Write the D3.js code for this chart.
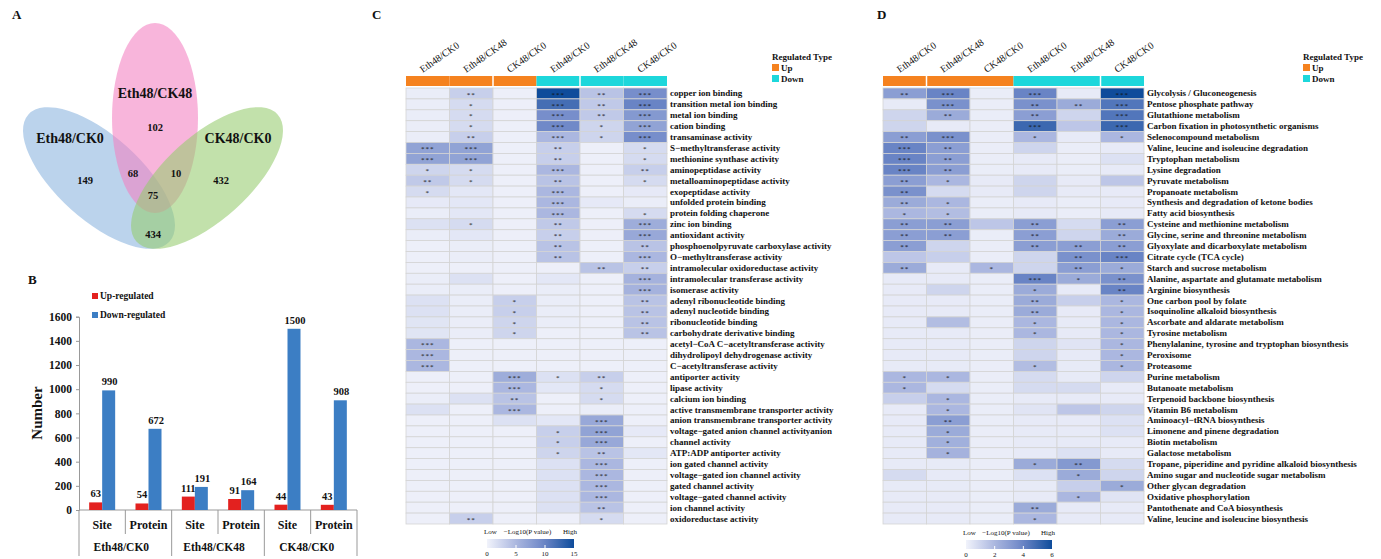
<!DOCTYPE html>
<html><head><meta charset="utf-8">
<script src="https://cdn.jsdelivr.net/npm/d3@7"></script>
<style>
body{margin:0;background:#fff}
svg{display:block}
text{font-family:"Liberation Serif","Times New Roman",serif;fill:#111}
</style>
</head><body>
<svg id="fig" width="1381" height="559"></svg>
<script>
// ---------------- DATA ----------------
// Panel A (Venn)
const vennSets = ["Eth48/CK0", "Eth48/CK48", "CK48/CK0"];
const vennRegions = ["A", "B", "C", "AB", "BC", "AC", "ABC"];
const vennCounts = [149, 102, 432, 68, 10, 434, 75];

// Panel B (bar chart)
const barGroups = ["Eth48/CK0", "Eth48/CK48", "CK48/CK0"];
const barCategories = ["Site", "Protein", "Site", "Protein", "Site", "Protein"];
const upValues = [63, 54, 111, 91, 44, 43];
const downValues = [990, 672, 191, 164, 1500, 908];
const yTicks = [0, 200, 400, 600, 800, 1000, 1200, 1400, 1600];
const seriesNames = ["Up-regulated", "Down-regulated"];

// Heatmap columns (shared by C and D)
const heatColumns = ["Eth48/CK0", "Eth48/CK48", "CK48/CK0", "Eth48/CK0", "Eth48/CK48", "CK48/CK0"];
const heatColumnType = ["Up", "Up", "Up", "Down", "Down", "Down"];

// Panel C (GO terms), -log10(P)
const cTerms = ["copper ion binding","transition metal ion binding","metal ion binding","cation binding","transaminase activity","S\u2212methyltransferase activity","methionine synthase activity","aminopeptidase activity","metalloaminopeptidase activity","exopeptidase activity","unfolded protein binding","protein folding chaperone","zinc ion binding","antioxidant activity","phosphoenolpyruvate carboxylase activity","O\u2212methyltransferase activity","intramolecular oxidoreductase activity","intramolecular transferase activity","isomerase activity","adenyl ribonucleotide binding","adenyl nucleotide binding","ribonucleotide binding","carbohydrate derivative binding","acetyl\u2212CoA C\u2212acetyltransferase activity","dihydrolipoyl dehydrogenase activity","C\u2212acetyltransferase activity","antiporter activity","lipase activity","calcium ion binding","active transmembrane transporter activity","anion transmembrane transporter activity","voltage\u2212gated anion channel activityanion","channel activity","ATP:ADP antiporter activity","ion gated channel activity","voltage\u2212gated ion channel activity","gated channel activity","voltage\u2212gated channel activity","ion channel activity","oxidoreductase activity"];
const cValues = [
[0.5,3,0.3,15,4,9],[0.5,2,0.3,12,3.5,10],[0.5,2,0.3,9,3.5,8],[0.5,2,0.3,9.5,2.5,7],[0.5,3,0.3,5,2.5,9],
[7,7,0.3,3,0.3,2],[7,7,0.3,3,0.3,2],[2.5,2,0.3,5,0.3,3],[3.5,2,0.3,4,0.3,2],[2,1,0.3,5,0.3,0.8],
[0.8,1,0.3,5,0.8,0.5],[0.5,1,0.3,5,0.3,2],[1.5,2,0.3,3.5,0.3,6],[0.5,1,0.3,3,0.3,6.5],[0.3,0.5,0.3,4,0.3,4],
[0.3,0.5,0.3,4,0.3,5],[0.3,0.3,0.3,0.3,4,3],[0.5,1.5,0.3,1,0.3,5.5],[0.5,0.5,0.3,0.5,0.3,5.5],[1.5,0.5,3,0.5,0.3,4],
[1.5,0.5,3,0.5,0.3,4],[1.2,0.5,2.5,0.5,0.3,4],[1.2,0.5,2.5,0.3,0.3,4],[5,0.3,0.3,0.3,0.3,0.3],[5,0.3,0.3,0.3,0.3,0.3],
[5,0.3,0.3,0.3,0.3,0.3],[0.3,0.3,6,1.5,3,0.3],[0.3,0.3,5,1,2,0.3],[0.5,1.5,4,0.3,2,0.3],[1.5,0.3,5,0.3,0.5,0.3],
[0.3,0.3,1.5,1,6.5,0.3],[0.3,0.3,0.3,3,7,0.8],[0.3,0.3,0.3,3,6.5,0.3],[0.3,0.3,0.3,2.5,4,1],[0.3,0.3,0.3,1.5,5,0.3],
[0.3,0.3,0.3,1.5,5,0.3],[0.3,0.3,0.3,1.5,5,0.3],[0.3,0.3,0.3,1.5,5,0.3],[0.3,0.3,0.3,1.5,4,0.3],[0.3,3,0.3,0.3,2,0.3]];
const cStars = [
[0,2,0,3,2,3],[0,1,0,3,2,3],[0,1,0,3,2,3],[0,1,0,3,1,3],[0,2,0,3,1,3],
[3,3,0,2,0,1],[3,3,0,2,0,1],[1,1,0,3,0,2],[2,1,0,2,0,1],[1,0,0,3,0,0],
[0,0,0,3,0,0],[0,0,0,3,0,1],[0,1,0,2,0,3],[0,0,0,2,0,3],[0,0,0,2,0,2],
[0,0,0,2,0,3],[0,0,0,0,2,2],[0,0,0,0,0,3],[0,0,0,0,0,3],[0,0,1,0,0,2],
[0,0,1,0,0,2],[0,0,1,0,0,2],[0,0,1,0,0,2],[3,0,0,0,0,0],[3,0,0,0,0,0],
[3,0,0,0,0,0],[0,0,3,1,2,0],[0,0,3,0,1,0],[0,0,2,0,1,0],[0,0,3,0,0,0],
[0,0,0,0,3,0],[0,0,0,1,3,0],[0,0,0,1,3,0],[0,0,0,1,2,0],[0,0,0,0,3,0],
[0,0,0,0,3,0],[0,0,0,0,3,0],[0,0,0,0,3,0],[0,0,0,0,2,0],[0,2,0,0,1,0]];
const cLegendTicks = [0, 5, 10, 15];

// Panel D (KEGG pathways), -log10(P)
const dTerms = ["Glycolysis / Gluconeogenesis","Pentose phosphate pathway","Glutathione metabolism","Carbon fixation in photosynthetic organisms","Selenocompound metabolism","Valine, leucine and isoleucine degradation","Tryptophan metabolism","Lysine degradation","Pyruvate metabolism","Propanoate metabolism","Synthesis and degradation of ketone bodies","Fatty acid biosynthesis","Cysteine and methionine metabolism","Glycine, serine and threonine metabolism","Glyoxylate and dicarboxylate metabolism","Citrate cycle (TCA cycle)","Starch and sucrose metabolism","Alanine, aspartate and glutamate metabolism","Arginine biosynthesis","One carbon pool by folate","Isoquinoline alkaloid biosynthesis","Ascorbate and aldarate metabolism","Tyrosine metabolism","Phenylalanine, tyrosine and tryptophan biosynthesis","Peroxisome","Proteasome","Purine metabolism","Butanoate metabolism","Terpenoid backbone biosynthesis","Vitamin B6 metabolism","Aminoacyl\u2212tRNA biosynthesis","Limonene and pinene degradation","Biotin metabolism","Galactose metabolism","Tropane, piperidine and pyridine alkaloid biosynthesis","Amino sugar and nucleotide sugar metabolism","Other glycan degradation","Oxidative phosphorylation","Pantothenate and CoA biosynthesis","Valine, leucine and isoleucine biosynthesis"];
const dValues = [
[3,4,0.2,4,0.3,6],[0.3,3.5,0.2,3.5,2.5,4.5],[1,2.5,0.2,3,1,4.5],[1,0.3,0.2,5,1.5,5],[3,3.5,0.2,2,0.3,2],
[4,3,0.2,1,0.2,0.3],[4,3,0.2,0.3,0.2,0.6],[4,3,0.2,0.3,0.2,0.3],[3,2,0.3,1,0.3,1.5],[3.5,0.8,0.3,1,0.3,0.3],
[2.5,2,0.2,0.3,0.2,0.3],[2,1.8,0.2,0.3,0.2,0.3],[3,3,1.5,3,0.8,3],[3,3,0.2,3,1,2.5],[3,1,0.2,3,3,3],
[1.5,1.2,0.2,1,3.5,4],[2.5,0.3,2,1,3,2.5],[0.3,0.3,0.2,4,2.5,3.5],[0.3,1,0.2,2.5,0.3,4],[0.3,0.3,0.2,2.5,1.2,2],
[0.3,0.3,0.2,2.5,0.3,2],[0.3,1.8,0.2,2,0.3,2],[0.3,0.3,0.2,2,0.3,2],[0.3,0.3,0.2,1,0.5,2],[0.3,0.3,0.2,1,0.3,2],
[0.3,0.3,0.2,1.8,0.3,2],[2,2,0.2,0.8,0.3,1],[2,0.8,0.2,0.8,0.8,0.3],[1.2,2,0.2,0.3,0.3,0.3],[0.3,2,0.2,0.5,1.5,1],
[0.3,3,0.2,0.3,0.3,0.6],[0.3,2.5,0.2,0.3,0.3,0.6],[0.3,2.3,0.2,0.3,0.3,0.3],[0.3,2.2,0.2,0.3,0.6,0.3],[0.3,0.3,0.2,2.5,3.2,0.8],
[0.8,0.3,0.2,0.6,2.5,1],[0.3,0.3,0.2,0.3,1.2,2.5],[0.3,0.3,0.2,0.3,2,0.5],[0.3,0.3,0.2,2.5,0.3,0.3],[0.3,0.3,0.2,2,0.3,0.3]];
const dStars = [
[2,3,0,3,0,3],[0,3,0,2,2,3],[0,2,0,2,0,3],[0,0,0,3,0,3],[2,3,0,1,0,1],
[3,2,0,0,0,0],[3,2,0,0,0,0],[3,2,0,0,0,0],[2,1,0,0,0,0],[2,0,0,0,0,0],
[2,1,0,0,0,0],[1,1,0,0,0,0],[2,2,0,2,0,2],[2,2,0,2,0,2],[2,0,0,2,2,2],
[0,0,0,0,2,3],[2,0,1,0,2,1],[0,0,0,3,1,2],[0,0,0,1,0,2],[0,0,0,2,0,1],
[0,0,0,2,0,1],[0,0,0,1,0,1],[0,0,0,1,0,1],[0,0,0,0,0,1],[0,0,0,0,0,1],
[0,0,0,1,0,1],[1,1,0,0,0,0],[1,0,0,0,0,0],[0,1,0,0,0,0],[0,1,0,0,0,0],
[0,2,0,0,0,0],[0,1,0,0,0,0],[0,1,0,0,0,0],[0,1,0,0,0,0],[0,0,0,1,2,0],
[0,0,0,0,1,0],[0,0,0,0,0,1],[0,0,0,0,1,0],[0,0,0,2,0,0],[0,0,0,1,0,0]];
const dLegendTicks = [0, 2, 4, 6];

// ---------------- DRAW ----------------
const svg = d3.select("#fig");
const BOLD = "bold";

// panel letters
[["A",12,19],["B",28,284],["C",372,19],["D",877,19]].forEach(([t,x,y]) =>
  svg.append("text").attr("x",x).attr("y",y).attr("font-size",13).attr("font-weight",BOLD).text(t));

// ---- Panel A: Venn ----
(function(){
  const g = svg.append("g");
  const ell = [
    {cx:99, cy:178, rx:95, ry:42, rot:42, fill:"rgb(138,180,222)"},
    {cx:155, cy:118, rx:43, ry:95, rot:0, fill:"rgb(243,128,193)"},
    {cx:207, cy:178, rx:95, ry:42, rot:-42, fill:"rgb(150,204,110)"}
  ];
  g.selectAll("ellipse").data(ell).join("ellipse")
    .attr("cx",d=>d.cx).attr("cy",d=>d.cy).attr("rx",d=>d.rx).attr("ry",d=>d.ry)
    .attr("transform",d=>`rotate(${d.rot},${d.cx},${d.cy})`)
    .attr("fill",d=>d.fill).attr("fill-opacity",0.58);
  const setPos = [[70,143],[155,98],[238,143]];
  g.selectAll("text.set").data(vennSets).join("text").attr("class","set")
    .attr("x",(d,i)=>setPos[i][0]).attr("y",(d,i)=>setPos[i][1])
    .attr("text-anchor","middle").attr("font-size",14).attr("font-weight",BOLD).text(d=>d);
  const regPos = {A:[85,184],B:[155,131],C:[221,184],AB:[133,177],BC:[176,177],AC:[153,238],ABC:[153,199]};
  g.selectAll("text.num").data(vennRegions).join("text").attr("class","num")
    .attr("x",d=>regPos[d][0]).attr("y",d=>regPos[d][1])
    .attr("text-anchor","middle").attr("font-size",10.5).attr("font-weight",BOLD)
    .text((d,i)=>vennCounts[i]);
})();

// ---- Panel B: bars ----
(function(){
  const g = svg.append("g");
  const x = d3.scaleBand().domain(d3.range(barCategories.length)).range([79,357]);
  const y = d3.scaleLinear().domain([0,1600]).range([510,316.7]);
  const bw = 13;
  const red = "#e3211f", blue = "#3c7ec4";
  // axis
  const ya = d3.axisLeft(y).tickValues(yTicks).tickFormat(d3.format("d")).tickSize(3).tickPadding(4);
  const yg = g.append("g").attr("transform","translate(79,0)").call(ya);
  yg.select(".domain").attr("stroke","#999");
  yg.selectAll(".tick line").attr("stroke","#999");
  yg.selectAll(".tick text").attr("font-size",11.5).attr("font-weight",BOLD)
    .attr("font-family","Liberation Serif").attr("fill","#111");
  g.append("line").attr("x1",79).attr("x2",357).attr("y1",510).attr("y2",510).attr("stroke","#999");
  // separators
  d3.range(barCategories.length+1).forEach(i=>{
    const xx = i<barCategories.length ? x(i) : x.range()[1];
    const long = i%2===0;
    g.append("line").attr("x1",xx).attr("x2",xx).attr("y1",510).attr("y2",long?556:534).attr("stroke","#999");
  });
  // bars
  g.selectAll("rect.up").data(upValues).join("rect").attr("class","up")
    .attr("x",(d,i)=>x(i)+x.bandwidth()/2-bw).attr("width",bw)
    .attr("y",d=>y(d)).attr("height",d=>y(0)-y(d)).attr("fill",red);
  g.selectAll("rect.down").data(downValues).join("rect").attr("class","down")
    .attr("x",(d,i)=>x(i)+x.bandwidth()/2).attr("width",bw)
    .attr("y",d=>y(d)).attr("height",d=>y(0)-y(d)).attr("fill",blue);
  g.selectAll("text.uplab").data(upValues).join("text").attr("class","uplab")
    .attr("x",(d,i)=>x(i)+x.bandwidth()/2-bw/2).attr("y",d=>y(d)-5)
    .attr("text-anchor","middle").attr("font-size",10.5).attr("font-weight",BOLD).text(d=>d);
  g.selectAll("text.dnlab").data(downValues).join("text").attr("class","dnlab")
    .attr("x",(d,i)=>x(i)+x.bandwidth()/2+bw/2+1).attr("y",d=>y(d)-5)
    .attr("text-anchor","middle").attr("font-size",10.5).attr("font-weight",BOLD).text(d=>d);
  // category labels
  g.selectAll("text.cat").data(barCategories).join("text").attr("class","cat")
    .attr("x",(d,i)=>x(i)+x.bandwidth()/2).attr("y",529)
    .attr("text-anchor","middle").attr("font-size",12).attr("font-weight",BOLD).text(d=>d);
  g.selectAll("text.grp").data(barGroups).join("text").attr("class","grp")
    .attr("x",(d,i)=>(x(2*i)+x(2*i+1)+x.bandwidth())/2-4).attr("y",551)
    .attr("text-anchor","middle").attr("font-size",11.5).attr("font-weight",BOLD).text(d=>d);
  // y title
  g.append("text").attr("transform","translate(42,413) rotate(-90)").attr("text-anchor","middle")
    .attr("font-size",15).attr("font-weight",BOLD).text("Number");
  // legend
  const cols = [red, blue];
  seriesNames.forEach((s,i)=>{
    g.append("rect").attr("x",92).attr("y",293+i*19).attr("width",6).attr("height",6).attr("fill",cols[i]);
    g.append("text").attr("x",100).attr("y",299+i*19).attr("font-size",9.5).attr("font-weight",BOLD).text(s);
  });
})();

// ---- Heatmaps ----
function heatmap(x0, terms, values, stars, vmax, ticks, breaks, legendX, legendBox){
  const g = svg.append("g");
  const colW = 43.5, y0 = 88, rowH = 10.9;
  const x = d3.scaleBand().domain(d3.range(heatColumns.length)).range([x0, x0+colW*6]);
  const y = d3.scaleBand().domain(d3.range(terms.length)).range([y0, y0+rowH*terms.length]);
  const color = d3.scaleLinear().domain([0, vmax*0.33, vmax*0.66, vmax])
    .range(["#f1f3fb","#acb8e0","#6b85c6","#0e4c9b"]).interpolate(d3.interpolateRgb).clamp(true);
  const typeColor = {Up:"#f5821f", Down:"#1dd7db"};
  // annotation bar
  g.selectAll("rect.ann").data(heatColumnType).join("rect").attr("class","ann")
    .attr("x",(d,i)=>x(i)).attr("width",x.bandwidth()).attr("y",76).attr("height",10)
    .attr("fill",d=>typeColor[d]);
  breaks.forEach(b=>g.append("line").attr("x1",x(b)).attr("x2",x(b)).attr("y1",76).attr("y2",86)
    .attr("stroke","#fff").attr("stroke-width",1.5));
  // column labels
  g.selectAll("text.col").data(heatColumns).join("text").attr("class","col")
    .attr("transform",(d,i)=>`translate(${x(i)+x.bandwidth()/2-5},73) rotate(-35)`)
    .attr("font-size",10).text(d=>d);
  // cells
  const cells = [];
  values.forEach((row,r)=>row.forEach((v,c)=>cells.push({r,c,v,s:stars[r][c]})));
  g.selectAll("rect.cell").data(cells).join("rect").attr("class","cell")
    .attr("x",d=>x(d.c)).attr("y",d=>y(d.r)).attr("width",x.bandwidth()).attr("height",y.bandwidth())
    .attr("fill",d=>color(d.v)).attr("stroke","#d4d4d4").attr("stroke-width",0.8);
  g.selectAll("text.star").data(cells.filter(d=>d.s>0)).join("text").attr("class","star")
    .attr("x",d=>x(d.c)+x.bandwidth()/2).attr("y",d=>y(d.r)+y.bandwidth()/2+3.2)
    .attr("text-anchor","middle").attr("font-size",7).attr("letter-spacing",1)
    .text(d=>"*".repeat(d.s));
  // row labels
  g.selectAll("text.row").data(terms).join("text").attr("class","row")
    .attr("x",x0+colW*6+3).attr("y",(d,i)=>y(i)+y.bandwidth()/2+3)
    .attr("font-size",9).attr("font-weight",BOLD).text(d=>d);
  // regulated type legend
  g.append("text").attr("x",legendX).attr("y",60).attr("font-size",9).attr("font-weight",BOLD).text("Regulated Type");
  ["Up","Down"].forEach((t,i)=>{
    g.append("rect").attr("x",legendX).attr("y",64+i*11).attr("width",7).attr("height",7).attr("fill",typeColor[t]);
    g.append("text").attr("x",legendX+9).attr("y",70.5+i*11).attr("font-size",9).attr("font-weight",BOLD).text(t);
  });
  // color legend
  const [lx0,lx1,ly] = legendBox;
  const lx = d3.scaleLinear().domain([0,vmax]).range([lx0,lx1]);
  const gid = "grad"+x0;
  const grad = svg.append("defs").append("linearGradient").attr("id",gid);
  d3.range(0,1.0001,0.1).forEach(t=>grad.append("stop").attr("offset",t).attr("stop-color",color(t*vmax)));
  g.append("rect").attr("x",lx0).attr("y",ly).attr("width",lx1-lx0).attr("height",9).attr("fill",`url(#${gid})`);
  ticks.slice(1,-1).forEach(t=>g.append("line").attr("x1",lx(t)).attr("x2",lx(t)).attr("y1",ly+6).attr("y2",ly+9)
    .attr("stroke","#fff").attr("stroke-width",1));
  g.selectAll("text.lt").data(ticks).join("text").attr("class","lt")
    .attr("x",d=>lx(d)).attr("y",ly+17).attr("text-anchor","middle").attr("font-size",7).text(d=>d);
  g.append("text").attr("x",lx0-3).attr("y",ly-5).attr("font-size",7).text("Low");
  g.append("text").attr("x",(lx0+lx1)/2-3).attr("y",ly-5).attr("text-anchor","middle").attr("font-size",7).text("\u2212Log10(P value)");
  g.append("text").attr("x",lx1+3).attr("y",ly-5).attr("text-anchor","end").attr("font-size",7).text("High");
}
heatmap(406, cTerms, cValues, cStars, 15, cLegendTicks, [2,4], 772, [487,574,539]);
heatmap(883, dTerms, dValues, dStars, 6, dLegendTicks, [1,5], 1303, [966,1052,540]);
</script>
</body></html>
